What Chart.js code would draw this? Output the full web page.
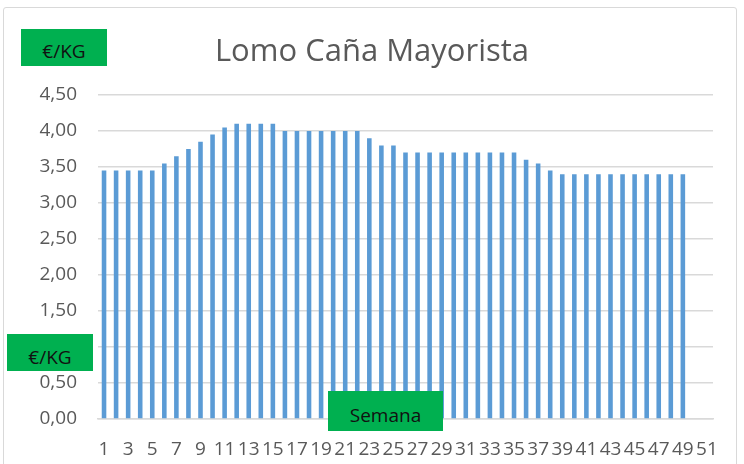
<!DOCTYPE html>
<html>
<head>
<meta charset="utf-8">
<script src="https://cdn.jsdelivr.net/npm/chart.js@4"></script>
<style>
  html, body { margin: 0; padding: 0; background: #fff; }
  #wrap { position: relative; width: 744px; height: 464px; overflow: hidden; font-family: "Open Sans", sans-serif; }
  #frame { position: absolute; left: 3px; top: 7px; width: 734px; height: 480px; border: 1.5px solid #d9d9d9; border-radius: 3px; box-sizing: border-box; }
  canvas { position: absolute; left: 0; top: 0; }
  #title { position: absolute; left: 0; width: 744px; top: 27px; text-align: center; font-size: 31px; color: #595959; line-height: 44px; }
  .tag { position: absolute; background: #00b050; color: #111; font-size: 19px; display: flex; align-items: center; justify-content: center; }
</style>
</head>
<body>
<div id="wrap">
  <div id="frame"></div>
  <canvas id="c" width="744" height="464"></canvas>
  <div id="title">Lomo Caña Mayorista</div>
  <div class="tag" style="left:21px;top:29px;width:86px;height:37px;padding-top:6px;box-sizing:border-box;">€/KG</div>
  <div class="tag" style="left:7px;top:334px;width:86px;height:37px;padding-top:8px;box-sizing:border-box;">€/KG</div>
  <div class="tag" style="left:328px;top:391px;width:115px;height:40px;padding-top:8px;box-sizing:border-box;">Semana</div>
</div>
<script>
const weeks = [];
for (let i = 1; i <= 51; i++) weeks.push(String(i));

const prices = [
  3.45, 3.45, 3.45, 3.45, 3.45, 3.55, 3.65, 3.75, 3.85, 3.95,
  4.05, 4.10, 4.10, 4.10, 4.10, 4.00, 4.00, 4.00, 4.00, 4.00,
  4.00, 4.00, 3.90, 3.80, 3.80, 3.70, 3.70, 3.70, 3.70, 3.70,
  3.70, 3.70, 3.70, 3.70, 3.70, 3.60, 3.55, 3.45, 3.40, 3.40,
  3.40, 3.40, 3.40, 3.40, 3.40, 3.40, 3.40, 3.40, 3.40, null,
  null
];

const yTicks = [0, 0.5, 1, 1.5, 2, 2.5, 3, 3.5, 4, 4.5];

const tickFont = { family: "'Open Sans', sans-serif", size: 19 };

new Chart(document.getElementById('c'), {
  type: 'bar',
  data: {
    labels: weeks,
    datasets: [{
      data: prices,
      backgroundColor: '#5b9bd5',
      borderWidth: 0,
      categoryPercentage: 1,
      barPercentage: 0.38
    }]
  },
  options: {
    responsive: false,
    animation: false,
    devicePixelRatio: 1,
    layout: { padding: { left: 0, right: 31, top: 95, bottom: 0 } },
    plugins: { legend: { display: false }, title: { display: false }, tooltip: { enabled: false } },
    scales: {
      x: {
        grid: { display: false, drawTicks: false },
        border: { display: true, color: '#d9d9d9', width: 1.5 },
        ticks: {
          autoSkip: false, maxRotation: 0, minRotation: 0, padding: 19,
          color: '#595959', font: tickFont,
          callback: function(v, i) { return i % 2 === 0 ? weeks[i] : ''; }
        },
        afterFit: function(s) { s.height = 45; }
      },
      y: {
        min: 0, max: 4.5,
        afterBuildTicks: function(s) { s.ticks = yTicks.map(v => ({ value: v })); },
        grid: { color: '#d9d9d9', lineWidth: 1.5, drawTicks: false },
        border: { display: false },
        ticks: {
          padding: 21, color: '#595959', font: tickFont,
          callback: function(v) { return Number(v).toFixed(2).replace('.', ','); }
        },
        afterFit: function(s) { s.width = 98; }
      }
    }
  }
});
</script>
</body>
</html>
